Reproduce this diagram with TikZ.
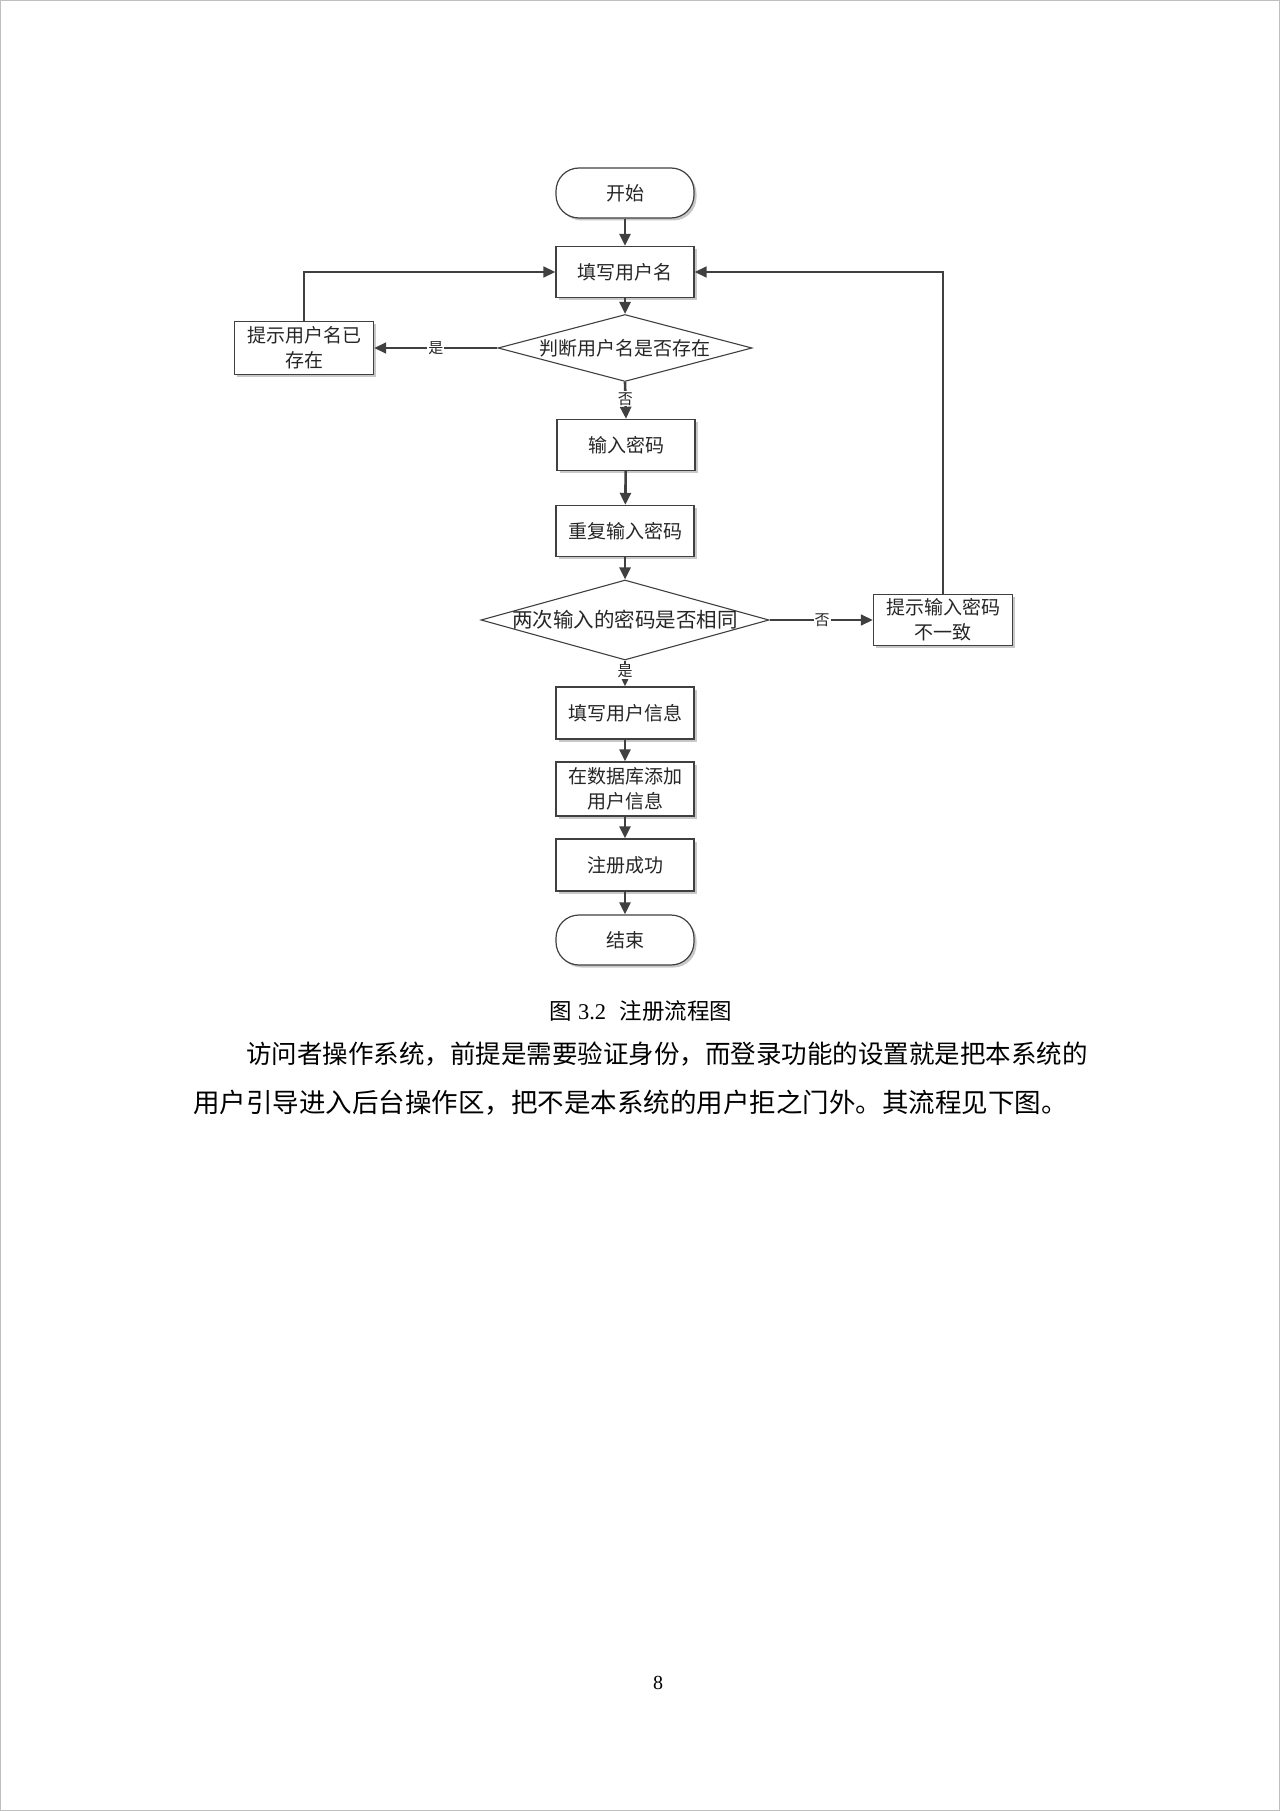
\documentclass[tikz,border=0pt]{standalone}
\usepackage{fontspec}
\setmainfont{Liberation Serif}
\newfontfamily\cjk{Noto Sans CJK SC}
\usetikzlibrary{shapes.geometric,arrows.meta,shadows}
\definecolor{linec}{HTML}{404040}
\tikzset{
  every node/.style={font=\cjk\fontsize{19}{25}\selectfont, text=black!85},
  shad/.style={drop shadow={shadow xshift=2.5pt, shadow yshift=-2.5pt, fill=black!30, opacity=0.7}},
  procbox/.style={draw=linec, line width=1.4pt, minimum width=138pt, minimum height=51pt, inner sep=0pt, align=center, fill=white, shad},
  termbox/.style={draw=linec, line width=1.2pt, minimum width=138pt, minimum height=50pt, inner sep=0pt, rounded corners=23pt, fill=white, shad},
  decbox/.style={diamond, draw=linec, line width=1.1pt, inner sep=0pt, fill=white},
  mainarr/.style={draw=linec, line width=2.6pt, -{Triangle[length=12pt,width=11pt]}},
  thinarr/.style={draw=linec, line width=1.6pt, -{Triangle[length=12pt,width=11pt]}},
  lbl/.style={fill=white, inner sep=1pt, font=\cjk\fontsize{15}{15}\selectfont},
}
\begin{document}
\begin{tikzpicture}[x=1pt,y=-1pt]
\useasboundingbox (0,0) rectangle (1280,1811);
\fill[white] (0,0) rectangle (1280,1811);
\draw[black!25, line width=1pt] (0.5,0.5) rectangle (1279.5,1810.5);

% nodes
\node[termbox] (start) at (625,193) {开始};
\node[procbox] (b1) at (625,272) {填写用户名};
\node[decbox, minimum width=254pt, minimum height=67pt] (d1) at (625,348) {};
\node at (d1) {判断用户名是否存在};
\node[procbox, minimum width=139pt, minimum height=53pt] (lb) at (304,348) {提示用户名已\\存在};
\node[procbox] (b2) at (626,445) {输入密码};
\node[procbox] (b3) at (625,531) {重复输入密码};
\node[decbox, minimum width=288pt, minimum height=80pt] (d2) at (625,620) {};
\node[font=\cjk\fontsize{20.5}{25}\selectfont] at (d2) {两次输入的密码是否相同};
\node[procbox, minimum width=139pt] (rb) at (943,620) {提示输入密码\\不一致};
\node[procbox, minimum height=52pt] (b4) at (625,713) {填写用户信息};
\node[procbox, minimum height=54pt] (b5) at (625,789) {在数据库添加\\用户信息};
\node[procbox, minimum height=52pt] (b6) at (625,865) {注册成功};
\node[termbox] (end) at (625,940) {结束};

% connectors
\draw[mainarr] (start) -- (b1);
\draw[mainarr] (b1) -- (d1.north);
\draw[thinarr] (d1.west) -- node[lbl, pos=0.5] {是} (lb.east);
\draw[thinarr] (lb.north) |- (b1.west);
\draw[mainarr] (d1.south) -- node[lbl, pos=0.46] {否} (b2.north);
\draw[mainarr] (b2) -- (b3);
\draw[mainarr] (b3) -- (d2.north);
\draw[thinarr] (d2.east) -- node[lbl, pos=0.51] {否} (rb.west);
\draw[thinarr] (rb.north) |- (b1.east);
\draw[thinarr] (d2.south) -- node[lbl, pos=0.42] {是} (b4.north);
\draw[mainarr] (b4) -- (b5);
\draw[mainarr] (b5) -- (b6);
\draw[mainarr] (b6) -- (end);

% caption and text
\node[font=\fontsize{22.5}{26}\selectfont, text=black] (cap) at (641,1011) {{\cjk 图} 3.2\hspace{0.6em}{\cjk 注册流程图}};
\node[anchor=west, font=\cjk\fontsize{25.5}{30}\selectfont, text=black, inner sep=0pt] (p1) at (246,1054) {访问者操作系统，前提是需要验证身份，而登录功能的设置就是把本系统的};
\node[anchor=west, font=\cjk\fontsize{26.5}{30}\selectfont, text=black, inner sep=0pt] (p2) at (193,1103) {用户引导进入后台操作区，把不是本系统的用户拒之门外。其流程见下图。};
\node[font=\fontsize{20}{24}\selectfont, text=black] (pg) at (658,1683) {8};
\end{tikzpicture}
\end{document}
